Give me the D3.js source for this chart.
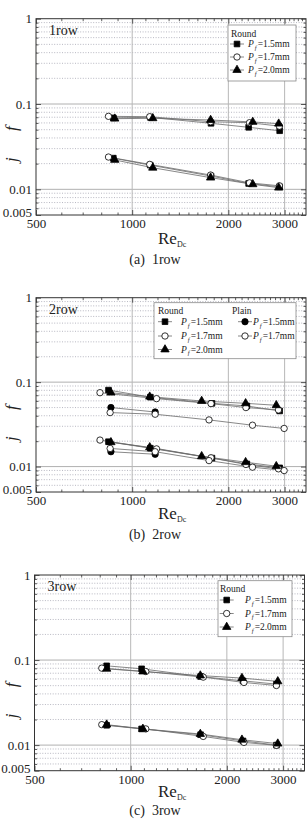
<!DOCTYPE html>
<html>
<head>
<meta charset="utf-8">
<script src="https://cdn.jsdelivr.net/npm/d3@7"></script>
<style>
  body { margin: 0; background: #fff; }
  svg { display: block; font-family: "Liberation Serif", "Times New Roman", serif; }
</style>
</head>
<body>
<svg id="chart" width="308" height="825"></svg>
<script>
// ---- axis values ----
const xMajor = [500, 1000, 2000, 3000];
const xMinor = d3.range(600, 3500, 100).filter(v => !xMajor.includes(v));
const yMajor = [0.005, 0.01, 0.1, 1];
const yMinor = [0.006, 0.007, 0.008, 0.009, 0.02, 0.03, 0.04, 0.05, 0.06, 0.07, 0.08, 0.09,
                0.2, 0.3, 0.4, 0.5, 0.6, 0.7, 0.8, 0.9];

// ---- (a) 1row ----
const row1_r15_re = [873, 1139, 1765, 2315, 2895];
const row1_r15_f  = [0.0688, 0.0698, 0.0594, 0.0533, 0.0486];
const row1_r15_j  = [0.0232, 0.0192, 0.0143, 0.0117, 0.0107];
const row1_r17_re = [843, 1135, 1760, 2330, 2890];
const row1_r17_f  = [0.0717, 0.0710, 0.0620, 0.0604, 0.0550];
const row1_r17_j  = [0.0239, 0.0196, 0.0147, 0.0119, 0.0110];
const row1_r20_re = [882, 1160, 1760, 2385, 2875];
const row1_r20_f  = [0.0673, 0.0680, 0.0649, 0.0616, 0.0588];
const row1_r20_j  = [0.0221, 0.0179, 0.0137, 0.01145, 0.01045];

// ---- (b) 2row ----
const row2_r15_re = [843, 1140, 1777, 2285, 2895];
const row2_r15_f  = [0.0805, 0.0664, 0.0561, 0.0522, 0.0456];
const row2_r15_j  = [0.0197, 0.0165, 0.0126, 0.01076, 0.00966];
const row2_r17_re = [793, 1192, 1765, 2270, 2870];
const row2_r17_f  = [0.0750, 0.0638, 0.0557, 0.0500, 0.0469];
const row2_r17_j  = [0.0206, 0.0162, 0.0127, 0.0106, 0.0094];
const row2_r20_re = [858, 1135, 1650, 2265, 2825];
const row2_r20_f  = [0.0750, 0.0672, 0.0598, 0.0561, 0.0532];
const row2_r20_j  = [0.0194, 0.0169, 0.01325, 0.01127, 0.0101];
const row2_p15_re = [858, 1180];
const row2_p15_f  = [0.0500, 0.0443];
const row2_p15_j  = [0.0150, 0.0140];
const row2_p17_re = [853, 1180, 1740, 2380, 2990];
const row2_p17_f  = [0.0436, 0.0417, 0.0357, 0.0309, 0.0283];
const row2_p17_j  = [0.0164, 0.0150, 0.01177, 0.00984, 0.00897];

// ---- (c) 3row ----
const row3_r15_re = [841, 1082, 1655, 2247, 2860];
const row3_r15_f  = [0.0855, 0.0789, 0.0640, 0.0569, 0.0521];
const row3_r15_j  = [0.0171, 0.0155, 0.01325, 0.0112, 0.0100];
const row3_r17_re = [812, 1115, 1687, 2262, 2858];
const row3_r17_f  = [0.0803, 0.0733, 0.0630, 0.0545, 0.0502];
const row3_r17_j  = [0.0174, 0.0155, 0.01265, 0.01076, 0.00993];
const row3_r20_re = [841, 1092, 1652, 2230, 2887];
const row3_r20_f  = [0.0789, 0.0733, 0.0657, 0.0614, 0.0561];
const row3_r20_j  = [0.0174, 0.0155, 0.0135, 0.01156, 0.0104];

// marker styles
const mk = {
  sq:  { type: d3.symbolSquare,   size: 32, fill: '#000' },
  oc:  { type: d3.symbolCircle,   size: 32, fill: '#fff' },
  tri: { type: d3.symbolTriangle, size: 30, fill: '#000' },
  fc:  { type: d3.symbolCircle,   size: 32, fill: '#000' }
};

const ser = (label, m, re, f, j) => ({ label, m, re, f, j });

const panels = [
  {
    name: '1row', caption: '(a)\u00a0\u00a01row',
    left: 36, right: 306, top: 18.7, bottom: 215, xlab: 29, cap: 49,
    series: [
      ser('1.5', 'sq', row1_r15_re, row1_r15_f, row1_r15_j),
      ser('1.7', 'oc', row1_r17_re, row1_r17_f, row1_r17_j),
      ser('2.0', 'tri', row1_r20_re, row1_r20_f, row1_r20_j)
    ],
    legend: { x0: 228, y0: 25, w: 68, h: 56, cols: [{ title: 'Round', tx: 231, mx: 237, lx: 248, items: [0, 1, 2] }], rows: [44, 57, 70], ty: 37 }
  },
  {
    name: '2row', caption: '(b)\u00a0\u00a02row',
    left: 36, right: 306, top: 297.7, bottom: 492, xlab: 27, cap: 47,
    series: [
      ser('1.5', 'sq', row2_r15_re, row2_r15_f, row2_r15_j),
      ser('1.7', 'oc', row2_r17_re, row2_r17_f, row2_r17_j),
      ser('2.0', 'tri', row2_r20_re, row2_r20_f, row2_r20_j),
      ser('1.5', 'fc', row2_p15_re, row2_p15_f, row2_p15_j),
      ser('1.7', 'oc', row2_p17_re, row2_p17_f, row2_p17_j)
    ],
    legend: { x0: 154, y0: 302.7, w: 142, h: 56, cols: [
      { title: 'Round', tx: 158, mx: 165, lx: 181, items: [0, 1, 2] },
      { title: 'Plain', tx: 232, mx: 245, lx: 253, items: [3, 4] }
    ], rows: [321.7, 336, 349.5], ty: 314 }
  },
  {
    name: '3row', caption: '(c)\u00a0\u00a03row',
    left: 34.5, right: 304.5, top: 575, bottom: 770.7, xlab: 26, cap: 44,
    series: [
      ser('1.5', 'sq', row3_r15_re, row3_r15_f, row3_r15_j),
      ser('1.7', 'oc', row3_r17_re, row3_r17_f, row3_r17_j),
      ser('2.0', 'tri', row3_r20_re, row3_r20_f, row3_r20_j)
    ],
    legend: { x0: 218, y0: 580.7, w: 74, h: 56, cols: [{ title: 'Round', tx: 220, mx: 226.7, lx: 245, items: [0, 1, 2] }], rows: [600, 613.5, 627], ty: 592 }
  }
];

const svg = d3.select('#chart');

function marker(sel, m) {
  sel.append('path')
    .attr('d', d3.symbol().type(mk[m].type).size(mk[m].size))
    .attr('fill', mk[m].fill)
    .attr('stroke', '#000')
    .attr('stroke-width', 0.8);
}

function drawPanel(p) {
  const x = d3.scaleLog().domain([500, 3500]).range([p.left, p.right]);
  const y = d3.scaleLog().domain([0.005, 1]).range([p.bottom, p.top]);
  const g = svg.append('g');

  // grid
  g.selectAll('.ymin').data(yMinor).enter().append('line')
    .attr('x1', p.left).attr('x2', p.right)
    .attr('y1', d => y(d)).attr('y2', d => y(d))
    .attr('stroke', '#9a9aa8').attr('stroke-width', 0.7)
    .attr('stroke-dasharray', '1,1.6');
  g.selectAll('.ymaj').data([0.01, 0.1]).enter().append('line')
    .attr('x1', p.left).attr('x2', p.right)
    .attr('y1', d => y(d)).attr('y2', d => y(d))
    .attr('stroke', '#b0b0b0').attr('stroke-width', 1);
  g.selectAll('.xmaj').data([1000, 2000, 3000]).enter().append('line')
    .attr('x1', d => x(d)).attr('x2', d => x(d))
    .attr('y1', p.top).attr('y2', p.bottom)
    .attr('stroke', '#b8b8b8').attr('stroke-width', 1);

  // ticks (inward) on all four sides
  const fmtX = d3.format('d');
  const fmtY = d => String(d);
  const bx = g.append('g').attr('transform', `translate(0,${p.bottom})`)
    .call(d3.axisBottom(x).tickValues(xMajor).tickSize(-5).tickPadding(4).tickFormat(fmtX));
  g.append('g').attr('transform', `translate(0,${p.bottom})`)
    .call(d3.axisBottom(x).tickValues(xMinor).tickSize(-2.5).tickFormat(''));
  g.append('g').attr('transform', `translate(0,${p.top})`)
    .call(d3.axisTop(x).tickValues(xMajor).tickSize(-5).tickFormat(''));
  g.append('g').attr('transform', `translate(0,${p.top})`)
    .call(d3.axisTop(x).tickValues(xMinor).tickSize(-2.5).tickFormat(''));
  const ly = g.append('g').attr('transform', `translate(${p.left},0)`)
    .call(d3.axisLeft(y).tickValues(yMajor).tickSize(-5).tickPadding(4).tickFormat(fmtY));
  g.append('g').attr('transform', `translate(${p.left},0)`)
    .call(d3.axisLeft(y).tickValues(yMinor).tickSize(-2.5).tickFormat(''));
  g.append('g').attr('transform', `translate(${p.right},0)`)
    .call(d3.axisRight(y).tickValues(yMajor).tickSize(-5).tickFormat(''));
  g.append('g').attr('transform', `translate(${p.right},0)`)
    .call(d3.axisRight(y).tickValues(yMinor).tickSize(-2.5).tickFormat(''));
  g.selectAll('.domain').remove();
  g.selectAll('.tick line').attr('stroke', '#333').attr('stroke-width', 0.8);
  bx.selectAll('text').attr('font-size', 13).attr('fill', '#222').attr('font-family', 'Liberation Serif');
  ly.selectAll('text').attr('font-size', 13).attr('fill', '#222').attr('font-family', 'Liberation Serif')
    .attr('dy', d => d === 0.005 ? '0.12em' : '0.32em');

  // frame
  g.append('rect')
    .attr('x', p.left).attr('y', p.top)
    .attr('width', p.right - p.left).attr('height', p.bottom - p.top)
    .attr('fill', 'none').attr('stroke', '#333').attr('stroke-width', 1);

  // series lines then markers
  const line = d3.line().x(d => x(d[0])).y(d => y(d[1]));
  p.series.forEach(s => {
    ['f', 'j'].forEach(k => {
      const pts = s.re.map((r, i) => [r, s[k][i]]);
      g.append('path').attr('d', line(pts))
        .attr('fill', 'none').attr('stroke', '#6a6a6a').attr('stroke-width', 0.8);
    });
  });
  p.series.forEach(s => {
    ['f', 'j'].forEach(k => {
      s.re.forEach((r, i) => {
        const mg = g.append('g').attr('transform', `translate(${x(r)},${y(s[k][i])})`);
        marker(mg, s.m);
      });
    });
  });

  // panel name
  g.append('text').attr('x', p.left + 13).attr('y', p.top + 16)
    .attr('font-size', 14).attr('fill', '#222').text(p.name);

  // legend
  const L = p.legend;
  g.append('rect').attr('x', L.x0).attr('y', L.y0).attr('width', L.w).attr('height', L.h)
    .attr('fill', '#fff').attr('stroke', '#8a8a8a').attr('stroke-width', 0.8);
  L.cols.forEach(c => {
    g.append('text').attr('x', c.tx).attr('y', L.ty).attr('font-size', 9.5)
      .attr('fill', '#222').text(c.title);
    c.items.forEach((idx, r) => {
      const s = p.series[idx];
      const yy = L.rows[r];
      g.append('line').attr('x1', c.mx - 7).attr('x2', c.mx + 7)
        .attr('y1', yy).attr('y2', yy).attr('stroke', '#6a6a6a').attr('stroke-width', 0.8);
      const mg = g.append('g').attr('transform', `translate(${c.mx},${yy})`);
      marker(mg, s.m);
      const t = g.append('text').attr('x', c.lx).attr('y', yy + 3.3)
        .attr('font-size', 9.5).attr('fill', '#222');
      t.append('tspan').attr('font-style', 'italic').text('P');
      t.append('tspan').attr('font-style', 'italic').attr('font-size', 6.5).attr('dx', 1).attr('dy', 2.5).text('f');
      t.append('tspan').attr('dy', -2.5).attr('dx', 1).text('=' + s.label + 'mm');
    });
  });

  // y axis titles
  [['f', 110], ['j', 141]].forEach(([t, off]) => {
    g.append('text')
      .attr('transform', `translate(17,${p.top + off}) rotate(-90)`)
      .attr('text-anchor', 'middle').attr('font-size', 17)
      .attr('font-style', 'italic').attr('fill', '#222').text(t);
  });

  // x axis title
  const xt = g.append('text').attr('x', 158).attr('y', p.bottom + p.xlab)
    .attr('font-size', 17).attr('fill', '#222');
  xt.append('tspan').text('Re');
  xt.append('tspan').attr('font-size', 8).attr('dy', 3).text('Dc');

  // caption
  g.append('text').attr('x', 155).attr('y', p.bottom + p.cap)
    .attr('text-anchor', 'middle').attr('font-size', 14).attr('fill', '#222')
    .text(p.caption);
}

panels.forEach(drawPanel);
</script>
</body>
</html>
